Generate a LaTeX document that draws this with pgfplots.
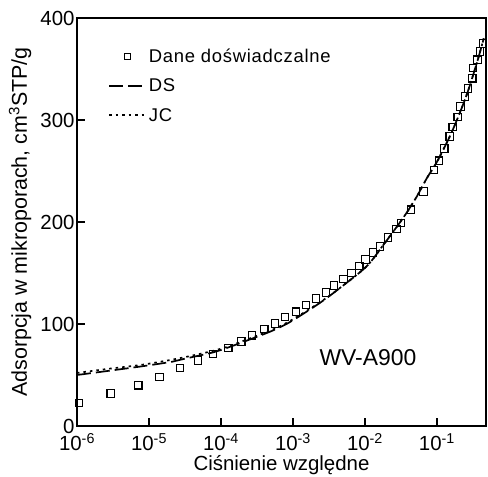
\documentclass[border=0pt]{standalone}
\usepackage{fontspec}
\setmainfont{Liberation Sans}
\usepackage{pgfplots}
\pgfplotsset{compat=1.18}
\usepackage{pgfplotstable}

\pgfplotstableread{
x y
1.07e-6 22.5
2.95e-6 32
7.08e-6 40
1.41e-5 48
2.69e-5 57
4.79e-5 64
7.76e-5 70.5
1.26e-4 76.5
1.91e-4 83
2.69e-4 89
3.98e-4 95
5.62e-4 100.7
7.76e-4 107
1.10e-3 112
1.51e-3 118.6
2.09e-3 125
2.88e-3 131
3.72e-3 137.5
5.01e-3 144
6.46e-3 150
8.32e-3 157
1.02e-2 163
1.29e-2 170
1.62e-2 176
2.09e-2 184.6
2.75e-2 193
3.16e-2 199
4.37e-2 212
6.46e-2 230
9.12e-2 251
0.107 260
0.126 272
0.151 284
0.166 293
0.195 303
0.214 313
0.245 323
0.269 331
0.309 341
0.316 351
0.363 359
0.398 367
0.437 375
}\expdata

\pgfplotstableread{
x y
1e-6 50
2.69e-6 54
7.94e-6 58.5
2.09e-5 63
3.16e-5 66
7.59e-5 72
1.26e-4 77
2.34e-4 84
5.01e-4 93
9.12e-4 102
2.40e-3 121
5.25e-3 139
1.07e-2 157
1.78e-2 177
3.39e-2 204
5.25e-2 225
7.24e-2 243
0.1 259
0.158 287
0.251 322
0.355 355
0.447 380
}\dsdata

\pgfplotstableread{
x y
1e-6 52
2.69e-6 56
7.94e-6 60
2.09e-5 65
3.16e-5 67.5
7.59e-5 73.5
1.26e-4 78
2.34e-4 85
5.01e-4 94
9.12e-4 103
2.40e-3 121.5
5.25e-3 139
1.07e-2 157
1.78e-2 177
3.39e-2 204
5.25e-2 225
7.24e-2 243
0.1 259
0.158 287
0.251 322
0.355 355
0.447 380
}\jcdata

\pgfplotsset{
  markleg/.style={legend image code/.code={\draw[##1, mark size=3.2bp] plot coordinates {(0.65cm,0cm)};}},
  lineleg/.style={legend image code/.code={\draw[##1] (0cm,0cm) -- (1.3cm,0cm);}},
}

\begin{document}
\begin{tikzpicture}
\begin{axis}[
  at={(77bp,51bp)}, anchor=south west,
  scale only axis, width=409bp, height=408bp,
  xmode=log, xmin=1e-6, xmax=0.48,
  ymin=0, ymax=400,
  xtick={1e-6,1e-5,1e-4,1e-3,1e-2,1e-1},
  xticklabels={10\textsuperscript{-6},10\textsuperscript{-5},10\textsuperscript{-4},10\textsuperscript{-3},10\textsuperscript{-2},10\textsuperscript{-1}},
  minor xtick={}, xminorticks=false,
  ytick={0,100,200,300,400},
  xtick pos=bottom, ytick pos=left,
  tick align=inside,
  major tick length=8bp,
  axis line style={line width=1.2bp},
  every tick/.style={line width=1.1bp, black},
  /pgf/number format/assume math mode=true,
  ticklabel style={font=\fontsize{20.5}{20.5}\selectfont},
  yticklabel style={xshift=1bp},
  xticklabel style={inner sep=0pt, yshift=-7bp},
  xlabel={Ciśnienie względne},
  ylabel={Adsorpcja w mikroporach, cm\textsuperscript{3}STP/g},
  label style={font=\fontsize{21.5}{21.5}\selectfont},
  xlabel style={at={(axis description cs:0.5,-0.096)}, anchor=center, inner sep=0pt, font=\fontsize{20.5}{20.5}\selectfont},
  ylabel style={at={(axis description cs:-0.139,0.5)}, anchor=center},
  legend style={draw=none, fill=none, at={(axis description cs:0.076,0.93)}, anchor=north west,
    font=\fontsize{18.5}{18.5}\selectfont\addfontfeature{LetterSpace=4}, row sep=11bp, inner sep=0pt},
  legend cell align=left,
]
\addplot[only marks, mark=square, mark size=3.8bp, line width=1.1bp, markleg]
  table[x=x,y=y] {\expdata};
\addlegendentry{Dane doświadczalne}
\addplot[black, line width=1.7bp, dash pattern=on 14bp off 5bp, smooth, lineleg]
  table[x=x,y=y] {\dsdata};
\addlegendentry{DS}
\addplot[black, line width=1.7bp, dash pattern=on 2.5bp off 4bp, smooth, lineleg]
  table[x=x,y=y] {\jcdata};
\addlegendentry{JC}
\node[font=\fontsize{23}{23}\selectfont] at (axis cs:1.1e-2,67) {WV-A900};
\end{axis}
\pgfresetboundingbox
\path (0,0) rectangle (488bp,477bp);
\end{tikzpicture}
\end{document}
